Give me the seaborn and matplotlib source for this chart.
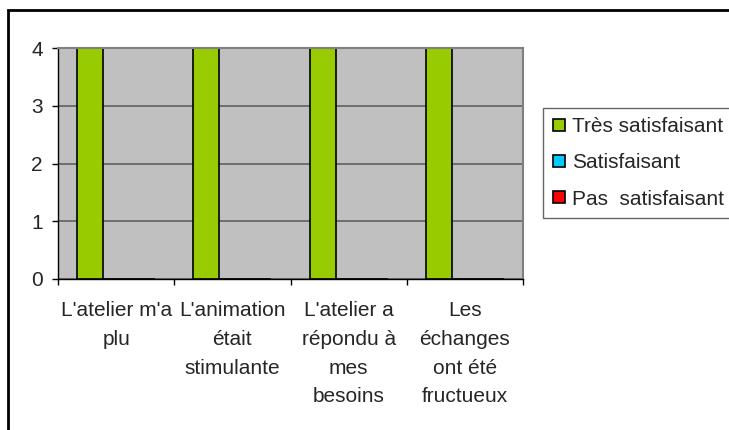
import pandas as pd
import numpy as np
import seaborn as sns
import matplotlib.pyplot as plt
from matplotlib.patches import Rectangle
from matplotlib.lines import Line2D

# chart data
questions = ["L'atelier m'a\nplu", "L'animation\nétait\nstimulante",
             "L'atelier a\nrépondu à\nmes\nbesoins", "Les\néchanges\nont été\nfructueux"]
levels = ["Très satisfaisant", "Satisfaisant", "Pas  satisfaisant"]
tres_satisfaisant = [4, 4, 4, 4]
satisfaisant = [0, 0, 0, 0]
pas_satisfaisant = [0, 0, 0, 0]
level_colors = ["#99CC00", "#00CCFF", "#FF0000"]

df = pd.DataFrame({
    'question': questions * 3,
    'niveau': np.repeat(levels, len(questions)),
    'nombre': tres_satisfaisant + satisfaisant + pas_satisfaisant,
})

sns.set_style("white")
plt.rcParams['font.family'] = ['Liberation Sans', 'DejaVu Sans']
fs = 15

fig = plt.figure(figsize=(7.29, 4.30), dpi=100)
ax = fig.add_axes([58/729, 1 - 279/430, (523 - 58)/729, (279 - 48)/430])
ax.set_facecolor('#C0C0C0')

sns.barplot(data=df, x='question', y='nombre', hue='niveau', hue_order=levels,
            palette=level_colors, width=0.67, gap=0, edgecolor='black',
            linewidth=1.2, saturation=1, ax=ax, legend=True)

ax.set_ylim(0, 4)
ax.set_xlim(-0.5, len(questions) - 0.5)
ax.set_yticks(range(5))
ax.yaxis.grid(True, color='#606060', linewidth=1.2)
ax.set_axisbelow(True)
ax.set_xlabel('')
ax.set_ylabel('')

# category ticks at the boundaries, labels in the middle
ax.set_xticks(np.arange(-0.5, len(questions)), labels=[''] * (len(questions) + 1))
ax.set_xticks(range(len(questions)), labels=questions, minor=True)
ax.tick_params(axis='x', which='minor', bottom=False, length=0, pad=16, labelsize=fs)
ax.tick_params(axis='x', which='major', bottom=True, length=4, width=1, color='black', direction='out')
ax.tick_params(axis='y', left=True, length=4, width=1, color='black', direction='out', labelsize=fs, pad=7)
for lab in ax.get_xticklabels(minor=True):
    lab.set_linespacing(1.65)

for side in ['top', 'right']:
    ax.spines[side].set_color('#808080')
    ax.spines[side].set_linewidth(1.5)
for side in ['left', 'bottom']:
    ax.spines[side].set_color('black')
    ax.spines[side].set_linewidth(1)
    ax.spines[side].set_visible(True)

ax.get_legend().remove()
handles = [Line2D([], [], marker='s', linestyle='', markersize=8, markerfacecolor=c,
                  markeredgecolor='black', markeredgewidth=1.2) for c in level_colors]
leg = fig.legend(handles, levels, loc='upper left', bbox_to_anchor=(543/729, 1 - 108/430),
                 frameon=True, fancybox=False, fontsize=fs, handlelength=0.6,
                 handletextpad=0.35, labelspacing=0.82, borderpad=0.45, borderaxespad=0)
leg.get_frame().set_edgecolor('#404040')
leg.get_frame().set_linewidth(1)

# outer chart frame
fig.patches.append(Rectangle((8/729, -0.05), 1.1, 1 - 10/430 + 0.05, transform=fig.transFigure,
                             fill=False, edgecolor='black', linewidth=2))

fig.savefig('out.png', dpi=100)
